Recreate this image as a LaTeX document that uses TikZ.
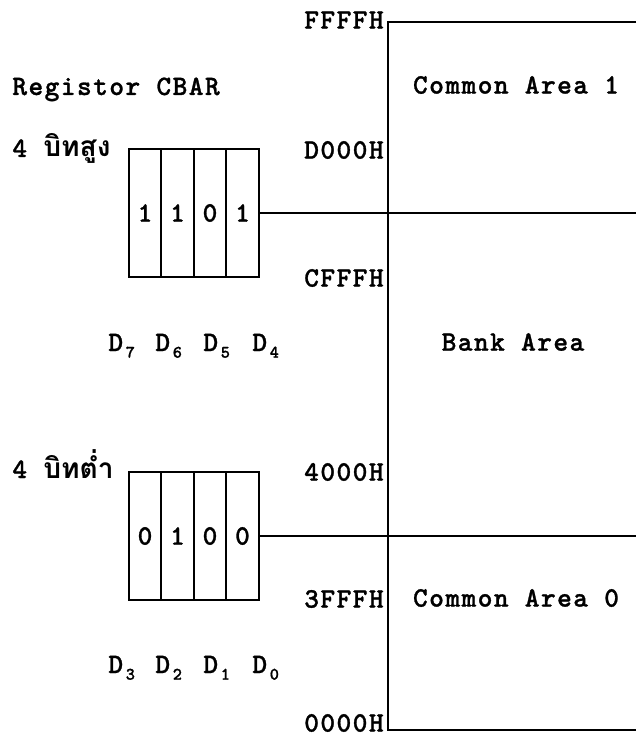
\documentclass[tikz,border=0pt]{standalone}
\usepackage{fontspec}
\newfontfamily\monofont{lmmonolt10-bold.otf}[LetterSpace=5, FakeBold=1]
\newfontfamily\thaifont[Script=Thai]{Loma}
\usetikzlibrary{positioning}
\tikzset{
  txt/.style={font={\monofont\fontsize{16}{19}\selectfont}, inner sep=0pt},
  bit/.style={draw, txt, line width=1.2pt, minimum width=0.65cm, minimum height=2.56cm, outer sep=0pt},
  addr/.style={txt, anchor=east},
  area/.style={txt},
  dlbl/.style={txt, anchor=base west},
  wire/.style={line width=1.2pt},
  mem/.style={line width=1.5pt},
}
\newcommand{\dbit}[1]{D\hspace{1.5pt}\raisebox{-0.55ex}{\fontsize{10}{10}\selectfont #1}}

\begin{document}
\begin{tikzpicture}[x=0.02cm, y=-0.02cm]
    \useasboundingbox (0,0) rectangle (636,739);
    % memory map
    \coordinate (mtl) at (388,22);
    \coordinate (mtr) at (636,22);
    \coordinate (mbl) at (388,730);
    \coordinate (mbr) at (636,730);
    \coordinate (r1) at (636,213);
    \coordinate (r0) at (636,536);
    \draw[mem] (mtr) -- (mtl) -- (mbl) -- (mbr);
    \node[addr] (ffff) at (384,20) {FFFFH};
    \node[addr] (d000) at (384,150) {D000H};
    \node[addr] (cfff) at (384,278) {CFFFH};
    \node[addr] (a4000) at (384,472) {4000H};
    \node[addr] (a3fff) at (384,599) {3FFFH};
    \node[addr] (a0000) at (384,723) {0000H};
    \node[area] (ca1) at (516,85) {Common Area 1};
    \node[area] (bank) at (513,342) {Bank Area};
    \node[area] (ca0) at (516,598) {Common Area 0};
    % register CBAR, upper 4 bits
    \node[txt, anchor=base west] (reg) at (12,95) {Registor CBAR};
    \node[txt, anchor=base west] (hi) at (12,157) {4 {\thaifont\bfseries บิทสูง}};
    \node[bit] (b7) at (145,213) {1};
    \node[bit, right=0pt of b7] (b6) {1};
    \node[bit, right=0pt of b6] (b5) {0};
    \node[bit, right=0pt of b5] (b4) {1};
    \draw[wire] (b4.east) -- (r1);
    \node[dlbl] (d7) at (108,351) {\dbit{7}};
    \node[dlbl] (d6) at (155,351) {\dbit{6}};
    \node[dlbl] (d5) at (203,351) {\dbit{5}};
    \node[dlbl] (d4) at (252,351) {\dbit{4}};
    % lower 4 bits
    \node[txt, anchor=base west] (lo) at (12,478) {4 {\thaifont\bfseries บิทต่ำ}};
    \node[bit] (b3) at (145,536) {0};
    \node[bit, right=0pt of b3] (b2) {1};
    \node[bit, right=0pt of b2] (b1) {0};
    \node[bit, right=0pt of b1] (b0) {0};
    \draw[wire] (b0.east) -- (r0);
    \node[dlbl] (d3) at (108,673) {\dbit{3}};
    \node[dlbl] (d2) at (155,673) {\dbit{2}};
    \node[dlbl] (d1) at (203,673) {\dbit{1}};
    \node[dlbl] (d0) at (252,673) {\dbit{0}};
\end{tikzpicture}
\end{document}
